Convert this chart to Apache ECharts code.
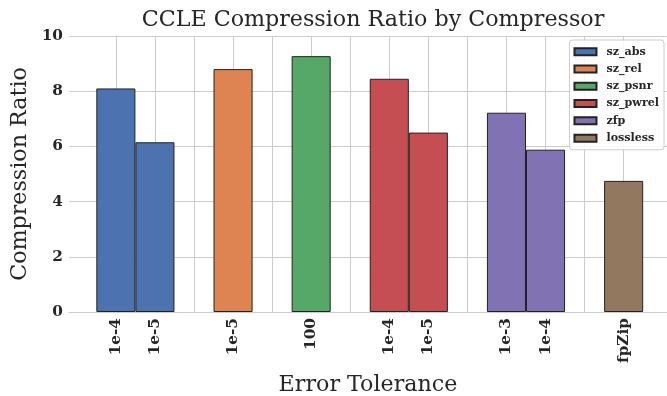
<!DOCTYPE html>
<html><head><meta charset="utf-8">
<script src="https://cdn.jsdelivr.net/npm/echarts@6/dist/echarts.min.js"></script>
<style>html,body{margin:0;padding:0;background:#fff}#c{width:667px;height:396px}</style>
</head><body><div id="c"></div>
<script>
// ---- data ----
const seriesNames = ['sz_abs', 'sz_rel', 'sz_psnr', 'sz_pwrel', 'zfp', 'lossless'];
const szAbsX = [0, 1];     const szAbsY = [8.1, 6.15];
const szRelX = [3];        const szRelY = [8.8];
const szPsnrX = [5];       const szPsnrY = [9.27];
const szPwrelX = [7, 8];   const szPwrelY = [8.45, 6.5];
const zfpX = [10, 11];     const zfpY = [7.22, 5.88];
const losslessX = [13];    const losslessY = [4.75];
const tickLabelX = [0, 1, 3, 5, 7, 8, 10, 11, 13];
const tickLabels = ['1e-4', '1e-5', '1e-5', '100', '1e-4', '1e-5', '1e-3', '1e-4', 'fpZip'];
const gridTickX = [0, 1, 2, 3, 4, 5, 6, 7, 8, 9, 10, 11, 12, 13];
const yTicks = [0, 2, 4, 6, 8, 10];

// ---- style ----
const colors = ['#4C72B0', '#DD8452', '#55A868', '#C44E52', '#8172B3', '#937860'];
const FONT = 'DejaVu Serif';
const TXT = '#262626';
const GRIDC = '#cccccc';
const W = 667, H = 396;
const gLeft = 69, gRight = 0, gTop = 36, gBottom = 84;
const xMin = -1.2, xMax = 14.11;
const unit = (W - gLeft - gRight) / (xMax - xMin);

const xs = [szAbsX, szRelX, szPsnrX, szPwrelX, zfpX, losslessX];
const ys = [szAbsY, szRelY, szPsnrY, szPwrelY, zfpY, losslessY];

const labelMap = {};
tickLabelX.forEach((x, i) => { labelMap[x] = tickLabels[i]; });

const chart = echarts.init(document.getElementById('c'), null, {renderer: 'canvas'});
chart.setOption({
  animation: false,
  backgroundColor: '#fff',
  title: {
    text: 'CCLE Compression Ratio by Compressor',
    left: 368, top: 4, textAlign: 'center',
    textStyle: {fontFamily: FONT, fontSize: 22.2, fontWeight: 'normal', color: TXT}
  },
  legend: {
    orient: 'vertical', right: 3, top: 40,
    data: seriesNames,
    itemWidth: 22, itemHeight: 7, itemGap: 4,
    padding: [5, 5, 5, 4],
    backgroundColor: 'rgba(255,255,255,0.85)',
    borderColor: '#cccccc', borderWidth: 1, borderRadius: 3,
    icon: 'rect',
    textStyle: {fontFamily: FONT, fontSize: 11.1, fontWeight: 'bold', color: TXT, lineHeight: 13.3, padding: [0, 0, 0, 5]}
  },
  grid: {left: gLeft, right: gRight, top: gTop, bottom: gBottom, containLabel: false, outerBoundsMode: 'none'},
  xAxis: {
    type: 'value', min: xMin, max: xMax,
    name: 'Error Tolerance', nameLocation: 'middle', nameGap: 62,
    nameTextStyle: {fontFamily: FONT, fontSize: 22.2, color: TXT},
    axisLine: {show: true, onZero: false, lineStyle: {color: GRIDC, width: 1}},
    axisTick: {show: false, customValues: gridTickX},
    splitLine: {show: true, lineStyle: {color: GRIDC, width: 1}},
    axisLabel: {
      customValues: tickLabelX, rotate: 90, margin: 6,
      formatter: v => labelMap[Math.round(v)] || '',
      fontFamily: FONT, fontSize: 15.3, fontWeight: 'bold', color: TXT
    }
  },
  yAxis: {
    type: 'value', min: 0, max: 10, interval: 2,
    name: 'Compression Ratio', nameLocation: 'middle', nameGap: 34,
    nameTextStyle: {fontFamily: FONT, fontSize: 22.2, color: TXT},
    axisLine: {show: true, lineStyle: {color: GRIDC, width: 1}},
    axisTick: {show: false},
    splitLine: {show: true, lineStyle: {color: GRIDC, width: 1}},
    axisLabel: {
      margin: 6, fontFamily: FONT, fontSize: 15.3, fontWeight: 'bold', color: TXT,
      customValues: yTicks
    }
  },
  series: seriesNames.map((name, i) => ({
    name: name, type: 'bar',
    data: xs[i].map((x, j) => [x, ys[i][j]]),
    barWidth: unit, barGap: '-100%',
    itemStyle: {color: colors[i], borderColor: '#222222', borderWidth: 1}
  }))
});
</script></body></html>
